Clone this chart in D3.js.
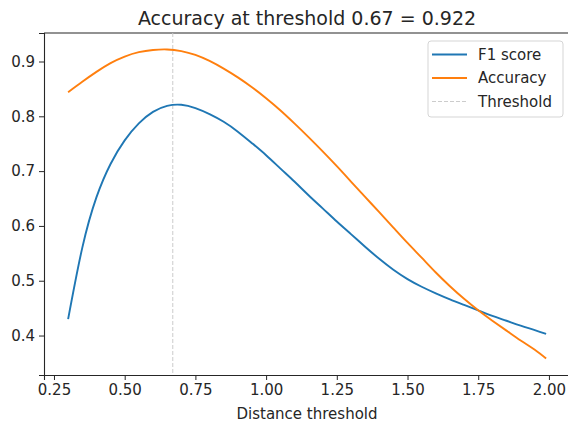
<!DOCTYPE html>
<html>
<head>
<meta charset="utf-8">
<script src="https://cdn.jsdelivr.net/npm/d3@7"></script>
<style>
    body { margin: 0; background: #ffffff; }
    #chart { width: 568px; height: 425px; }
    text { font-family: "DejaVu Sans", sans-serif; fill: #262626; }
    .axis path, .axis line { stroke: #262626; }
</style>
</head>
<body>
<div id="chart"></div>
<script>

// distance thresholds (x) and the two series
let thresholds = [0.30, 0.35, 0.40, 0.45, 0.50, 0.55, 0.60, 0.65, 0.70, 0.75, 0.80, 0.85, 0.90, 0.95,
    1.00, 1.05, 1.10, 1.15, 1.20, 1.25, 1.30, 1.35, 1.40, 1.45, 1.50, 1.55, 1.60, 1.65, 1.70,
    1.75, 1.80, 1.85, 1.90, 1.95, 1.99];

let f1Scores = [0.430, 0.560, 0.652, 0.713, 0.756, 0.787, 0.808, 0.819, 0.821, 0.815, 0.804, 0.790, 0.772, 0.751,
    0.729, 0.705, 0.681, 0.656, 0.632, 0.608, 0.585, 0.562, 0.540, 0.520, 0.503, 0.489, 0.477, 0.466, 0.456,
    0.446, 0.436, 0.427, 0.418, 0.410, 0.403];

let accuracies = [0.844, 0.863, 0.881, 0.897, 0.909, 0.917, 0.921, 0.922, 0.919, 0.912, 0.901, 0.887, 0.871, 0.853,
    0.833, 0.811, 0.787, 0.762, 0.736, 0.709, 0.681, 0.653, 0.625, 0.597, 0.569, 0.542, 0.515, 0.490, 0.467,
    0.446, 0.427, 0.409, 0.391, 0.374, 0.358];

let xTicks = [0.25, 0.50, 0.75, 1.00, 1.25, 1.50, 1.75, 2.00];
let yTicks = [0.4, 0.5, 0.6, 0.7, 0.8, 0.9];

let bestThreshold = 0.67;
let bestAccuracy = 0.922;

let seriesNames = ["F1 score", "Accuracy", "Threshold"];

// sizes
let margin = {top: 33, right: -2, bottom: 50, left: 44};
let width = 568 - margin.left - margin.right;
let height = 425 - margin.top - margin.bottom;

let svg = d3.select("#chart").append("svg")
    .attr("width", 568)
    .attr("height", 425)
    .append("g")
    .attr("transform", `translate(${margin.left}, ${margin.top})`);

// scales (domains include matplotlib's 5% padding)
let x = d3.scaleLinear().domain([0.2147, 2.0745]).range([0, width]);
let y = d3.scaleLinear().domain([0.328, 0.952]).range([height, 0]);

// axes
svg.append("g")
    .attr("class", "axis x-axis")
    .attr("transform", `translate(0, ${height})`)
    .call(d3.axisBottom(x).tickValues(xTicks).tickFormat(d3.format(".2f")).tickSize(5).tickPadding(4));

svg.append("g")
    .attr("class", "axis y-axis")
    .call(d3.axisLeft(y).tickValues(yTicks).tickFormat(d3.format(".1f")).tickSize(5).tickPadding(4));

svg.selectAll(".axis text").style("font-size", "15px").attr("fill", "#262626");
svg.selectAll(".axis path").attr("stroke-width", 1.1);
svg.selectAll(".axis .tick line").attr("stroke-width", 1);

// top and right spines
svg.append("line")
    .attr("x1", 0).attr("x2", width).attr("y1", 0).attr("y2", 0)
    .attr("stroke", "#262626").attr("stroke-width", 1.1);
svg.append("line")
    .attr("x1", width).attr("x2", width).attr("y1", 0).attr("y2", height)
    .attr("stroke", "#262626").attr("stroke-width", 1.1);

// threshold line
svg.append("line")
    .attr("x1", x(bestThreshold)).attr("x2", x(bestThreshold))
    .attr("y1", 0).attr("y2", height)
    .attr("stroke", "#cccccc")
    .attr("stroke-width", 1)
    .attr("stroke-dasharray", "4,2");

// curves
let line = d3.line().curve(d3.curveNatural);

svg.append("path")
    .datum(thresholds.map((t, i) => [x(t), y(f1Scores[i])]))
    .attr("d", line)
    .attr("fill", "none")
    .attr("stroke", "#1f77b4")
    .attr("stroke-width", 1.9);

svg.append("path")
    .datum(thresholds.map((t, i) => [x(t), y(accuracies[i])]))
    .attr("d", line)
    .attr("fill", "none")
    .attr("stroke", "#ff7f0e")
    .attr("stroke-width", 1.9);

// title
svg.append("text")
    .attr("x", width / 2)
    .attr("y", -8)
    .attr("text-anchor", "middle")
    .style("font-size", "19px")
    .text(`Accuracy at threshold ${bestThreshold} = ${bestAccuracy}`);

// x label
svg.append("text")
    .attr("x", width / 2)
    .attr("y", height + 44)
    .attr("text-anchor", "middle")
    .style("font-size", "15px")
    .text("Distance threshold");

// legend
let legend = svg.append("g")
    .attr("transform", `translate(${384}, ${8})`);

legend.append("rect")
    .attr("width", 135)
    .attr("height", 76)
    .attr("rx", 3)
    .attr("fill", "white")
    .attr("fill-opacity", 0.8)
    .attr("stroke", "#d5d5d5");

let legendColors = ["#1f77b4", "#ff7f0e", "#cccccc"];

seriesNames.forEach((name, i) => {
    let cy = 13.5 + i * 23.5;
    legend.append("line")
        .attr("x1", 4).attr("x2", 39)
        .attr("y1", cy).attr("y2", cy)
        .attr("stroke", legendColors[i])
        .attr("stroke-width", i < 2 ? 1.9 : 1)
        .attr("stroke-dasharray", i < 2 ? null : "4,2");
    legend.append("text")
        .attr("x", 50)
        .attr("y", cy)
        .attr("dy", "0.35em")
        .style("font-size", "15px")
        .text(name);
});

</script>
</body>
</html>
